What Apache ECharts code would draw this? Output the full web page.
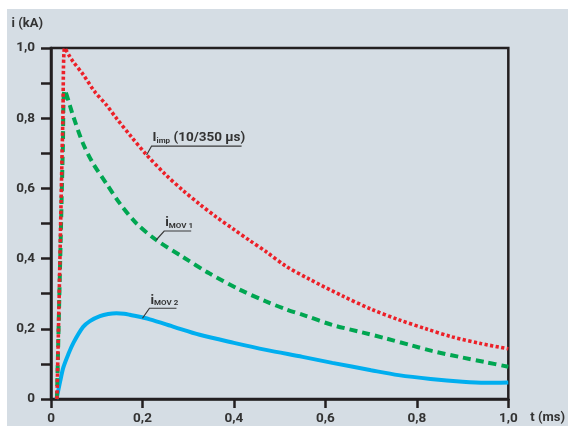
<!DOCTYPE html>
<html><head><meta charset="utf-8">
<script src="https://cdn.jsdelivr.net/npm/echarts@6/dist/echarts.min.js"></script>
<style>
html,body{margin:0;padding:0;background:#fff;width:568px;height:426px;overflow:hidden}
#c{position:absolute;left:7px;top:9px;width:561px;height:417px;}
</style>
</head><body><div id="c"></div>
<script>
// ---- data ----
const impT  = [0.013,0.018,0.022,0.026,0.03,0.04,0.049,0.07,0.096,0.121,0.143,0.175,0.208,0.25,0.288,0.325,0.361,0.4,0.434,0.47,0.513,0.564,0.637,0.7,0.76,0.82,0.877,0.94,1.0];
const impI  = [0,0.3,0.56,0.8,1.0,0.978,0.96,0.925,0.875,0.838,0.8,0.748,0.697,0.64,0.595,0.555,0.519,0.483,0.452,0.42,0.379,0.342,0.294,0.256,0.226,0.2,0.177,0.158,0.143];
const mov1T = [0.013,0.018,0.022,0.026,0.03,0.049,0.07,0.092,0.121,0.15,0.187,0.23,0.288,0.346,0.412,0.47,0.513,0.557,0.615,0.68,0.731,0.79,0.833,0.9,0.95,1.0];
const mov1I = [0,0.28,0.5,0.72,0.88,0.804,0.728,0.671,0.614,0.558,0.5,0.453,0.405,0.358,0.312,0.278,0.256,0.237,0.211,0.19,0.173,0.152,0.137,0.118,0.105,0.092];
const mov2T = [0.012,0.02,0.027,0.038,0.049,0.07,0.085,0.107,0.125,0.143,0.16,0.172,0.216,0.27,0.325,0.4,0.47,0.55,0.615,0.7,0.76,0.83,0.9,0.95,1.0];
const mov2I = [0,0.05,0.09,0.128,0.16,0.205,0.222,0.236,0.242,0.244,0.243,0.24,0.227,0.205,0.183,0.16,0.14,0.12,0.103,0.082,0.068,0.057,0.049,0.046,0.047];
const xTicks = [0,0.2,0.4,0.6,0.8,1.0];
const yTicks = [0,0.2,0.4,0.6,0.8,1.0];
const xName = 't (ms)';
const yName = 'i (kA)';
// annotation labels: main letter, subscript, suffix, anchor point on curve
const labMain = ['I','i','i'];
const labSub  = ['imp','MOV 1','MOV 2'];
const labSuf  = [' (10/350 µs)','',''];
const labT    = [0.209,0.230,0.200];
const labI    = [0.695,0.453,0.230];

const pairs = (t, v) => t.map((x, k) => [x, v[k]]);
const fmt = v => {
  const r = Math.round(v * 10) / 10;
  if (!yTicks.some(y => Math.abs(y - r) < 1e-6)) return '';
  return r === 0 ? '0' : r.toFixed(1).replace('.', ',');
};
const fmtX = v => {
  const r = Math.round(v * 10) / 10;
  return r === 0 ? '0' : r.toFixed(1).replace('.', ',');
};
const AX = '#231f20';
const TXT = '#333333';
const FONT = 'Roboto';

const chart = echarts.init(document.getElementById('c'), null, {renderer: 'canvas'});
chart.setOption({
  animation: false,
  backgroundColor: '#d5dde4',
  grid: {left: 44, top: 39, right: 58, bottom: 27, show: true, borderColor: AX, borderWidth: 2.5, backgroundColor: 'transparent'},
  xAxis: {
    type: 'value', min: xTicks[0], max: xTicks[xTicks.length - 1], interval: 0.2,
    name: xName, nameLocation: 'end', nameGap: 22,
    nameTextStyle: {color: TXT, fontFamily: FONT, fontSize: 13, fontWeight: 'bold', verticalAlign: 'top', align: 'left', padding: [12, 0, 0, 0]},
    axisLine: {show: true, lineStyle: {color: AX, width: 2.5}},
    axisTick: {show: true, length: 9, lineStyle: {color: AX, width: 2.5}},
    axisLabel: {formatter: fmtX, color: TXT, fontFamily: FONT, fontSize: 13.5, fontWeight: 'bold', margin: 13},
    splitLine: {show: false}
  },
  yAxis: {
    type: 'value', min: 0, max: 1, interval: 0.1,
    name: yName, nameLocation: 'end', nameGap: 18,
    nameTextStyle: {color: TXT, fontFamily: FONT, fontSize: 13, fontWeight: 'bold', align: 'right', padding: [0, 8, 0, 0]},
    axisLine: {show: true, lineStyle: {color: AX, width: 2.5}},
    axisTick: {show: true, length: 10, lineStyle: {color: AX, width: 2.5}},
    axisLabel: {formatter: fmt, color: TXT, fontFamily: FONT, fontSize: 13.5, fontWeight: 'bold', margin: 16},
    splitLine: {show: false}
  },
  series: [
    {name: 'iMOV2', type: 'line', data: pairs(mov2T, mov2I), showSymbol: false, smooth: 0.3,
     lineStyle: {color: '#00aeef', width: 4}, z: 2},
    {name: 'iMOV1', type: 'line', data: pairs(mov1T, mov1I), showSymbol: false, smooth: 0.3,
     lineStyle: {color: '#00a651', width: 4, type: [8, 5], cap: 'butt'}, z: 3},
    {name: 'Iimp', type: 'line', data: pairs(impT, impI), showSymbol: false, smooth: 0.3,
     lineStyle: {color: '#ec2028', width: 3.6, type: [3.2, 2.4], cap: 'butt'}, z: 4}
  ]
});

// annotations with leader lines anchored on the curves
const leadDx = [5, 8, 7], leadDy = [-9, -9, -10], ulLen = [90, 27, 27];
const gfx = [];
for (let k = 0; k < labMain.length; k++) {
  const p = chart.convertToPixel({gridIndex: 0}, [labT[k], labI[k]]);
  const x1 = p[0] + leadDx[k], y1 = p[1] + leadDy[k];
  gfx.push({type: 'polyline', z: 20, shape: {points: [p, [x1, y1], [x1 + ulLen[k], y1]]},
            style: {stroke: '#3a3a3a', lineWidth: 1.2, fill: null}});
  let txt = '{m|' + labMain[k] + '}{s|' + labSub[k] + '}';
  if (labSuf[k]) txt += '{m|' + labSuf[k] + '}';
  gfx.push({type: 'text', z: 20, x: x1 + 1, y: y1 - 1,
    style: {text: txt, align: 'left', verticalAlign: 'bottom',
      rich: {
        m: {fontFamily: FONT, fontSize: 13.5, fontWeight: 'bold', fill: TXT, lineHeight: 16, verticalAlign: 'bottom'},
        s: {fontFamily: FONT, fontSize: 8, fontWeight: 'bold', fill: TXT, lineHeight: 9, verticalAlign: 'bottom'}
      }}});
}
chart.setOption({graphic: gfx});
</script>
</body></html>
